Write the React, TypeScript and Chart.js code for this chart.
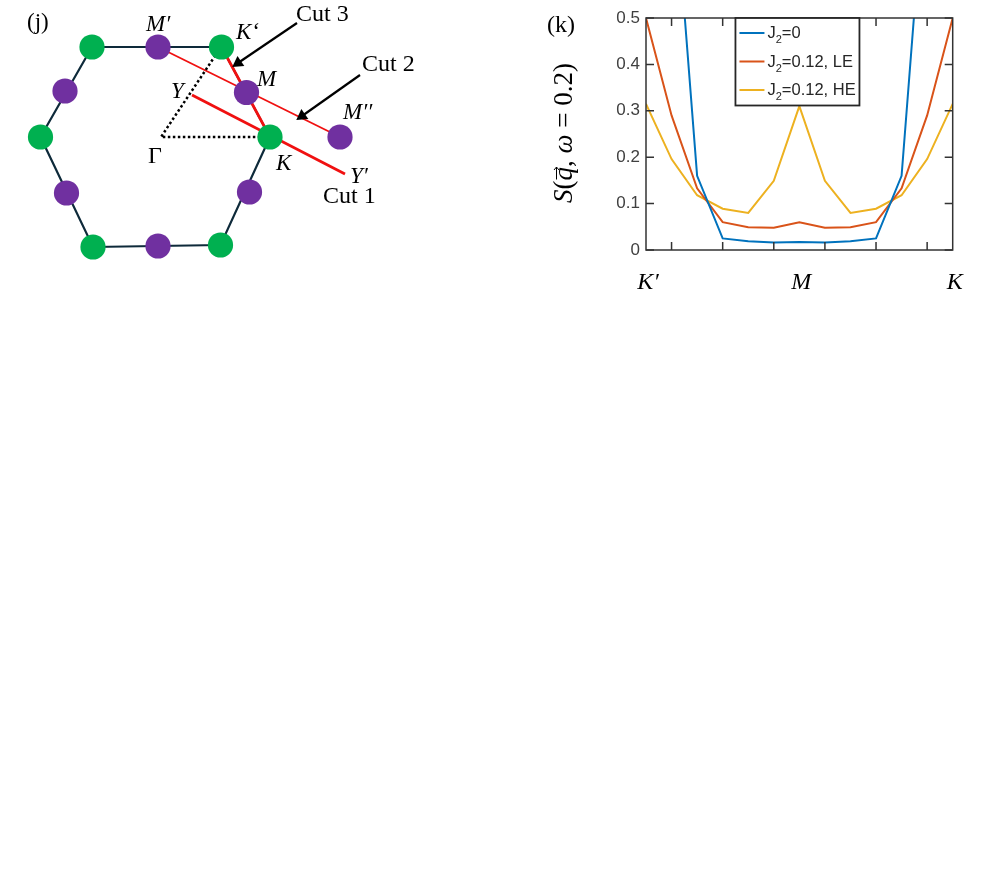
import React, { useEffect, useRef } from "react";
import { Chart, registerables } from "chart.js";

Chart.register(...registerables);

// ---------- panel (k) data ----------
const sampleIndex = [0, 1, 2, 3, 4, 5, 6, 7, 8, 9, 10, 11, 12];
const j2Zero = [1.6, 0.867, 0.16, 0.025, 0.019, 0.016, 0.017, 0.016, 0.019, 0.025, 0.16, 0.867, 1.6];
const j2Low = [0.5, 0.29, 0.133, 0.06, 0.049, 0.048, 0.06, 0.048, 0.049, 0.06, 0.133, 0.29, 0.5];
const j2High = [0.315, 0.196, 0.118, 0.089, 0.08, 0.149, 0.31, 0.149, 0.08, 0.089, 0.118, 0.196, 0.315];
const seriesNames = ["J_2=0", "J_2=0.12, LE", "J_2=0.12, HE"];
const seriesColors = ["#0072BD", "#D95319", "#EDB120"];
const xMinorTicks = [1, 3, 5, 7, 9, 11];
const yTicks = [0, 0.1, 0.2, 0.3, 0.4, 0.5];
const xTickLabels: Record<number, string> = { 0: "K′", 6: "M", 12: "K" };

// ---------- panel (j) data ----------
const hexOutline = [[92, 47], [221.5, 47], [270, 137], [220.5, 245], [93, 247], [40.5, 137], [92, 47]];
const greenPoints = [[92, 47], [221.5, 47], [270, 137], [220.5, 245], [93, 247], [40.5, 137]];
const purplePoints = [[158, 47], [65, 91], [246.5, 92.5], [66.5, 193], [249.5, 192], [158, 246], [340, 137]];
const cut1 = [[192, 95], [345, 174]];
const cut2 = [[158, 47], [340, 137]];
const cut3 = [[221.5, 47], [270, 137]];
const dotted = [[221, 47], [161, 137], [270, 137]];
const arrow3 = [[297, 23], [238, 63]];
const arrow2 = [[360, 75], [302, 116]];
const diagramLabels: [string, number, number, string][] = [
  ["(j)", 27, 29, "23px 'Liberation Serif'"],
  ["M′", 146, 31, "italic 23px 'Liberation Serif'"],
  ["K‘", 236, 39, "italic 23px 'Liberation Serif'"],
  ["M", 257, 86, "italic 23px 'Liberation Serif'"],
  ["Y", 171, 98, "italic 23px 'Liberation Serif'"],
  ["M′′", 343, 119, "italic 23px 'Liberation Serif'"],
  ["Γ", 148, 163, "24px 'Liberation Serif'"],
  ["K", 276, 170, "italic 23px 'Liberation Serif'"],
  ["Y′", 350, 183, "italic 23px 'Liberation Serif'"],
  ["Cut 3", 296, 21, "24px 'Liberation Serif'"],
  ["Cut 2", 362, 71, "24px 'Liberation Serif'"],
  ["Cut 1", 323, 203, "24px 'Liberation Serif'"],
];

const toXY = (pts: number[][]) => pts.map(([x, y]) => ({ x, y }));

const line = (data: number[][], color: string, width: number, order: number, dash: number[] = []) => ({
  type: "scatter" as const,
  data: toXY(data),
  showLine: true,
  borderColor: color,
  borderWidth: width,
  borderDash: dash,
  pointRadius: 0,
  order,
});

const arrow = (data: number[][], order: number) => {
  const [a, b] = data;
  const angle = (Math.atan2(b[1] - a[1], b[0] - a[0]) * 180) / Math.PI + 90;
  return {
    ...line(data, "#000000", 2.2, order),
    pointStyle: "triangle",
    pointRadius: [0, 7],
    pointRotation: angle,
    pointBackgroundColor: "#000000",
    pointBorderColor: "#000000",
    pointBorderWidth: 0,
  };
};

const dots = (data: number[][], color: string, order: number) => ({
  type: "scatter" as const,
  data: toXY(data),
  pointRadius: 12.6,
  pointBackgroundColor: color,
  pointBorderWidth: 0,
  order,
});

const diagramTextPlugin = {
  id: "diagramText",
  afterDatasetsDraw(chart: any) {
    const { ctx, scales } = chart;
    ctx.save();
    ctx.fillStyle = "#000000";
    ctx.textBaseline = "alphabetic";
    ctx.textAlign = "left";
    diagramLabels.forEach(([text, x, y, font]) => {
      ctx.font = font;
      ctx.fillText(text, scales.x.getPixelForValue(x), scales.y.getPixelForValue(y));
    });
    ctx.restore();
  },
};

const axesPlugin = {
  id: "matlabAxes",
  afterDatasetsDraw(chart: any) {
    const { ctx, scales, chartArea: a } = chart;
    const tick = 8;
    ctx.save();
    ctx.strokeStyle = "#333333";
    ctx.lineWidth = 1.5;
    ctx.strokeRect(a.left, a.top, a.right - a.left, a.bottom - a.top);
    ctx.beginPath();
    xMinorTicks.forEach((v) => {
      const px = scales.x.getPixelForValue(v);
      ctx.moveTo(px, a.bottom);
      ctx.lineTo(px, a.bottom - tick);
      ctx.moveTo(px, a.top);
      ctx.lineTo(px, a.top + tick);
    });
    yTicks.forEach((v) => {
      const py = scales.y.getPixelForValue(v);
      ctx.moveTo(a.left, py);
      ctx.lineTo(a.left + tick, py);
      ctx.moveTo(a.right, py);
      ctx.lineTo(a.right - tick, py);
    });
    ctx.stroke();

    // legend box, drawn from the dataset names and colours
    const left = scales.x.getPixelForValue(3.5);
    const boxTop = a.top;
    const boxW = 124;
    const boxH = 87.5;
    ctx.fillStyle = "#ffffff";
    ctx.fillRect(left, boxTop, boxW, boxH);
    ctx.strokeStyle = "#262626";
    ctx.lineWidth = 1.8;
    ctx.strokeRect(left, boxTop, boxW, boxH);
    chart.data.datasets.forEach((ds: any, i: number) => {
      const y = boxTop + 15 + i * 28.5;
      ctx.strokeStyle = ds.borderColor;
      ctx.lineWidth = 2;
      ctx.beginPath();
      ctx.moveTo(left + 4, y);
      ctx.lineTo(left + 29, y);
      ctx.stroke();
      const [head, tail] = ds.label.split("_");
      ctx.fillStyle = "#262626";
      ctx.textBaseline = "alphabetic";
      ctx.textAlign = "left";
      let x = left + 32;
      const base = y + 5;
      ctx.font = "16.5px 'Liberation Sans'";
      ctx.fillText(head, x, base);
      x += ctx.measureText(head).width;
      ctx.font = "11px 'Liberation Sans'";
      ctx.fillText(tail[0], x, base + 5);
      x += ctx.measureText(tail[0]).width;
      ctx.font = "16.5px 'Liberation Sans'";
      ctx.fillText(tail.slice(1), x, base);
    });

    // y-axis title
    const segs: [string, string][] = [
      ["S", "italic 27px 'Liberation Serif'"],
      ["(", "27px 'Liberation Serif'"],
      ["q", "italic 27px 'Liberation Serif'"],
      [", ", "27px 'Liberation Serif'"],
      ["ω", "italic 27px 'Liberation Serif'"],
      [" = 0.2)", "27px 'Liberation Serif'"],
    ];
    ctx.translate(32, 203);
    ctx.rotate(-Math.PI / 2);
    ctx.fillStyle = "#000000";
    let pos = 0;
    segs.forEach(([t, f]) => {
      ctx.font = f;
      ctx.fillText(t, pos, 0);
      if (t === "q") {
        const w = ctx.measureText(t).width;
        ctx.strokeStyle = "#000000";
        ctx.lineWidth = 1;
        ctx.beginPath();
        ctx.moveTo(pos + 1, -15.5);
        ctx.lineTo(pos + w, -15.5);
        ctx.moveTo(pos + w - 3, -18);
        ctx.lineTo(pos + w, -15.5);
        ctx.lineTo(pos + w - 3, -13);
        ctx.stroke();
      }
      pos += ctx.measureText(t).width;
    });
    ctx.setTransform(1, 0, 0, 1, 0, 0);

    // panel tag
    ctx.font = "24px 'Liberation Serif'";
    ctx.fillText("(k)", 7, 32);
    ctx.restore();
  },
};

export default function App() {
  const leftRef = useRef<HTMLCanvasElement>(null);
  const rightRef = useRef<HTMLCanvasElement>(null);

  useEffect(() => {
    const left = new Chart(leftRef.current!, {
      type: "scatter",
      data: {
        datasets: [
          dots(greenPoints, "#00B050", 1),
          dots(purplePoints, "#7030A0", 1),
          arrow(arrow3, 2),
          arrow(arrow2, 2),
          line(hexOutline, "#0E2A3A", 2.2, 5),
          line(cut1, "#F01010", 2.7, 4),
          line(cut2, "#F01010", 1.8, 4),
          line(cut3, "#F01010", 2.7, 4),
          line(dotted, "#000000", 2.5, 3, [2.5, 2.5]),
        ] as any,
      },
      options: {
        responsive: false,
        animation: false,
        layout: { padding: 0, autoPadding: false },
        plugins: { legend: { display: false }, tooltip: { enabled: false } },
        scales: {
          x: { type: "linear", min: 0, max: 430, display: false },
          y: { type: "linear", min: 0, max: 270, reverse: true, display: false },
        },
      },
      plugins: [diagramTextPlugin],
    } as any);

    const series = [j2Zero, j2Low, j2High];
    const right = new Chart(rightRef.current!, {
      type: "line",
      data: {
        labels: sampleIndex,
        datasets: series.map((values, i) => ({
          label: seriesNames[i],
          data: values.map((y, k) => ({ x: sampleIndex[k], y })),
          borderColor: seriesColors[i],
          borderWidth: 2,
          pointRadius: 0,
          tension: 0,
        })),
      },
      options: {
        responsive: false,
        animation: false,
        layout: { padding: { top: 18, right: 27.3, left: 0, bottom: 0 }, autoPadding: false },
        plugins: { legend: { display: false }, tooltip: { enabled: false } },
        scales: {
          x: {
            type: "linear",
            min: 0,
            max: 12,
            grid: { display: false },
            border: { display: false },
            afterFit: (s: any) => { s.height = 50; },
            afterBuildTicks: (s: any) => { s.ticks = [0, 6, 12].map((value) => ({ value })); },
            ticks: {
              callback: (v: any) => xTickLabels[v] ?? "",
              maxRotation: 0,
              autoSkip: false,
              padding: 10,
              labelOffset: 2,
              color: "#000000",
              font: { family: "Liberation Serif", style: "italic", size: 24 },
            },
          },
          y: {
            type: "linear",
            min: 0,
            max: 0.5,
            grid: { display: false },
            border: { display: false },
            afterFit: (s: any) => { s.width = 106; },
            afterBuildTicks: (s: any) => { s.ticks = yTicks.map((value) => ({ value })); },
            ticks: {
              callback: (v: any) => (v === 0 ? "0" : Number(v).toFixed(1)),
              padding: -2,
              color: "#404040",
              font: { family: "Liberation Sans", size: 17 },
            },
          },
        },
      },
      plugins: [axesPlugin],
    } as any);

    return () => {
      left.destroy();
      right.destroy();
    };
  }, []);

  return (
    <div style={{ position: "absolute", left: 0, top: 0, width: 996, height: 884, background: "#ffffff" }}>
      <canvas ref={leftRef} width={430} height={270} style={{ position: "absolute", left: 0, top: 0, width: 430, height: 270 }} />
      <canvas ref={rightRef} width={440} height={300} style={{ position: "absolute", left: 540, top: 0, width: 440, height: 300 }} />
    </div>
  );
}
